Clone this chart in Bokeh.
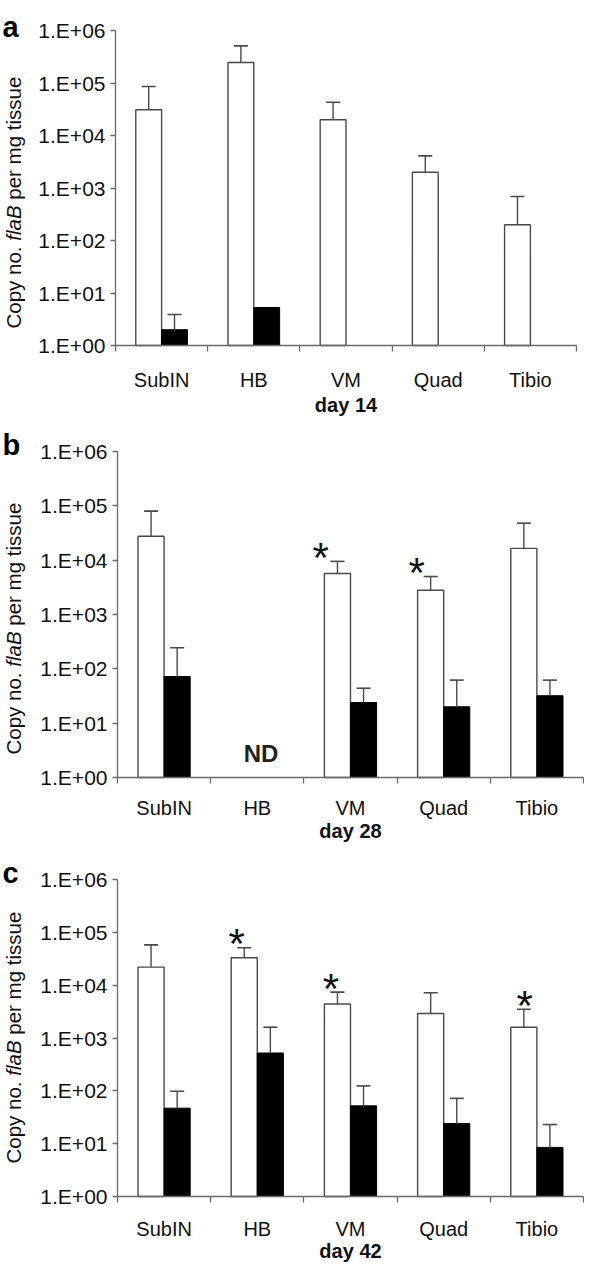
import math
from bokeh.plotting import figure
from bokeh.layouts import column
from bokeh.models import (ColumnDataSource, FixedTicker, CustomJSTickFormatter,
                          Label, Range1d)
from bokeh.embed import file_html
from bokeh.resources import INLINE
from bokeh.core.properties import value

# ---------------- data ----------------
categories = ["SubIN", "HB", "VM", "Quad", "Tibio"]
y_ticks = [1, 10, 100, 1000, 10000, 100000, 1000000]
y_title_parts = ["Copy no.", "flaB", "per mg tissue"]

day14_white = [3.1e4, 2.45e5, 2.0e4, 2.0e3, 2.0e2]
day14_white_err = [8.6e4, 5.1e5, 4.3e4, 4.1e3, 6.9e2]
day14_black = [2.0, 5.3, None, None, None]
day14_black_err = [3.9, None, None, None, None]
day14_stars = []
day14_nd = []

day28_white = [2.75e4, None, 5.7e3, 2.8e3, 1.65e4]
day28_white_err = [8.0e4, None, 9.5e3, 5.0e3, 4.8e4]
day28_black = [72, None, 24, 20, 32]
day28_black_err = [245, None, 44, 62, 62]
day28_stars = ["VM", "Quad"]
day28_nd = ["HB"]

day42_white = [2.2e4, 3.3e4, 4.4e3, 2.9e3, 1.6e3]
day42_white_err = [5.8e4, 5.1e4, 7.4e3, 7.2e3, 3.5e3]
day42_black = [47, 520, 52, 24, 8.5]
day42_black_err = [98, 1.6e3, 124, 72, 23]
day42_stars = ["HB", "VM", "Tibio"]
day42_nd = []

FONT = "Liberation Sans"
AXIS_COLOR = "#6a6a6a"
BAR_LINE = "#4a4a4a"
BAR_W = 0.28
BAR_OFF = 0.14
PAGE_MARGIN = 8
FIG_W = 584
# Arial/Liberation advance widths (em) for laying out the mixed-style y title
ADV = {" ": .278, "C": .722, "o": .556, "p": .556, "y": .5, "n": .556, ".": .278,
       "f": .278, "l": .222, "a": .556, "B": .667, "e": .556, "r": .333, "m": .833,
       "g": .556, "t": .278, "i": .222, "s": .5, "u": .556}


def tw(s, size):
    return sum(ADV.get(c, .556) for c in s) * size


def make_panel(letter, day, white, white_err, black, black_err, stars, nd, g):
    T, H = g["top"], g["h"]
    L, R, yt, yb = g["L"], g["R"], g["yt"], g["yb"]
    unit = (R - L) / 5.0
    dec = (yb - yt) / 6.0
    x0 = -(L - PAGE_MARGIN) / unit
    x1 = 5 + (PAGE_MARGIN + FIG_W - R) / unit
    y0 = 10 ** (-(T + H - yb) / dec)
    y1 = 10 ** (6 + (yt - T) / dec)

    def sy(page_y):
        return (T + H) - page_y

    def sx(page_x):
        return page_x - PAGE_MARGIN

    p = figure(width=FIG_W, height=H, x_range=Range1d(x0, x1), y_range=Range1d(y0, y1),
               y_axis_type="log", output_backend="svg", toolbar_location=None, title=None,
               min_border=0, min_border_left=0, min_border_right=0,
               min_border_top=0, min_border_bottom=0)
    p.outline_line_color = None
    p.xgrid.visible = False
    p.ygrid.visible = False

    # y axis, drawn at x = 0 (left edge of the first category)
    ya = p.yaxis[0]
    ya.fixed_location = 0
    ya.bounds = (1, 1e6)
    ya.ticker = FixedTicker(ticks=y_ticks, minor_ticks=[])
    ya.formatter = CustomJSTickFormatter(code="""
        const e = Math.round(Math.log10(tick));
        return '1.E+' + (e < 10 ? '0' : '') + e;""")
    ya.axis_line_color = AXIS_COLOR
    ya.axis_line_width = 1.3
    ya.major_tick_line_color = AXIS_COLOR
    ya.major_tick_line_width = 1.3
    ya.major_tick_out = 5
    ya.major_tick_in = 0
    ya.minor_tick_out = 0
    ya.minor_tick_in = 0
    ya.major_label_standoff = 5
    ya.major_label_text_font = FONT
    ya.major_label_text_font_size = "21px"
    ya.major_label_text_color = "#111111"
    ya.axis_label = None

    # x axis, drawn at y = 1
    xa = p.xaxis[0]
    xa.fixed_location = 1
    xa.bounds = (0, 5)
    xa.ticker = FixedTicker(ticks=[i + 0.5 for i in range(len(categories))],
                            minor_ticks=list(range(len(categories) + 1)))
    xa.formatter = CustomJSTickFormatter(args=dict(cats=categories),
                                         code="return cats[Math.floor(tick)] || '';")
    xa.axis_line_color = AXIS_COLOR
    xa.axis_line_width = 1.3
    xa.major_tick_out = 0
    xa.major_tick_in = 0
    xa.minor_tick_out = 6
    xa.minor_tick_in = 0
    xa.minor_tick_line_color = AXIS_COLOR
    xa.minor_tick_line_width = 1.3
    xa.major_label_standoff = g["cat_so"]
    xa.major_label_text_font = FONT
    xa.major_label_text_font_size = "20px"
    xa.major_label_text_color = "#111111"
    xa.axis_label = None

    # white bars
    wx = [i + 0.5 - BAR_OFF for i, v in enumerate(white) if v is not None]
    wv = [v for v in white if v is not None]
    p.vbar(x=wx, top=wv, bottom=1, width=BAR_W, fill_color="white",
           line_color=BAR_LINE, line_width=1.4)
    # black bars
    bx = [i + 0.5 + BAR_OFF for i, v in enumerate(black) if v is not None]
    bv = [v for v in black if v is not None]
    p.vbar(x=bx, top=bv, bottom=1, width=BAR_W, fill_color="black",
           line_color="black", line_width=1.0)

    # error bars (upper only)
    ex, e0, e1 = [], [], []
    for i in range(len(categories)):
        if white[i] is not None and white_err[i] is not None:
            ex.append(i + 0.5 - BAR_OFF); e0.append(white[i]); e1.append(white_err[i])
        if black[i] is not None and black_err[i] is not None:
            ex.append(i + 0.5 + BAR_OFF); e0.append(black[i]); e1.append(black_err[i])
    p.segment(x0=ex, y0=e0, x1=ex, y1=e1, line_color=BAR_LINE, line_width=1.4)
    p.scatter(x=ex, y=e1, marker="dash", size=14, line_color=BAR_LINE, line_width=1.6)

    # significance stars
    stx, sty = [], []
    for k, c in enumerate(stars):
        i = categories.index(c)
        stx.append(i + 0.5 + g["star_dx"][k]); sty.append(white_err[i])
    if stx:
        src = ColumnDataSource(dict(x=stx, y=sty, t=["*"] * len(stx)))
        p.text(x="x", y="y", text="t", source=src, text_font=value(FONT),
               text_font_size="42px", text_align="center", text_baseline="alphabetic",
               y_offset=-4, text_color="#111111")

    # ND labels
    for c in nd:
        i = categories.index(c)
        p.add_layout(Label(x=i + 0.54, y=sy(g["nd_y"]), x_units="data", y_units="screen",
                           text="ND", text_font=FONT, text_font_size="24px",
                           text_font_style="bold", text_color="#222222",
                           text_align="center", text_baseline="middle"))

    # day label
    p.add_layout(Label(x=2.5, y=sy(g["day_y"]), x_units="data", y_units="screen",
                       text=day, text_font=FONT, text_font_size="20px",
                       text_font_style="bold", text_color="#111111",
                       text_align="center", text_baseline="middle"))

    # panel letter
    p.add_layout(Label(x=sx(10), y=sy(g["let_y"]), x_units="screen", y_units="screen",
                       text=letter, text_font=FONT, text_font_size="29px",
                       text_font_style="bold", text_color="#000000",
                       text_align="left", text_baseline="alphabetic"))

    # y-axis title with italic gene name
    fs = 20.5
    start = sy(g["title_bottom"])
    offs = [0, tw("Copy no. ", fs), tw("Copy no. flaB ", fs)]
    styles = ["normal", "italic", "normal"]
    for part, off, st in zip(y_title_parts, offs, styles):
        p.add_layout(Label(x=sx(21), y=start + off, x_units="screen", y_units="screen",
                           text=part, text_font=FONT, text_font_size=f"{fs}px",
                           text_font_style=st, text_color="#111111", angle=90,
                           angle_units="deg", text_align="left", text_baseline="middle"))
    return p


# geometry in page pixels
geom_a = dict(top=8, h=418, L=123, R=584, yt=38, yb=353, cat_so=17, day_y=412,
              let_y=34, title_bottom=336, nd_y=0, star_dx=[])
geom_b = dict(top=426, h=426, L=125, R=591, yt=459, yb=785, cat_so=13, day_y=838,
              let_y=452, title_bottom=762, nd_y=761, star_dx=[-0.32, -0.29])
geom_c = dict(top=852, h=420, L=125, R=591, yt=887, yb=1204, cat_so=15, day_y=1258,
              let_y=880, title_bottom=1171, nd_y=0, star_dx=[-0.22, -0.21, -0.13])

pa = make_panel("a", "day 14", day14_white, day14_white_err, day14_black, day14_black_err,
                day14_stars, day14_nd, geom_a)
pb = make_panel("b", "day 28", day28_white, day28_white_err, day28_black, day28_black_err,
                day28_stars, day28_nd, geom_b)
pc = make_panel("c", "day 42", day42_white, day42_white_err, day42_black, day42_black_err,
                day42_stars, day42_nd, geom_c)

layout = column(pa, pb, pc, spacing=0)
open("out.html", "w").write(file_html(layout, INLINE))
